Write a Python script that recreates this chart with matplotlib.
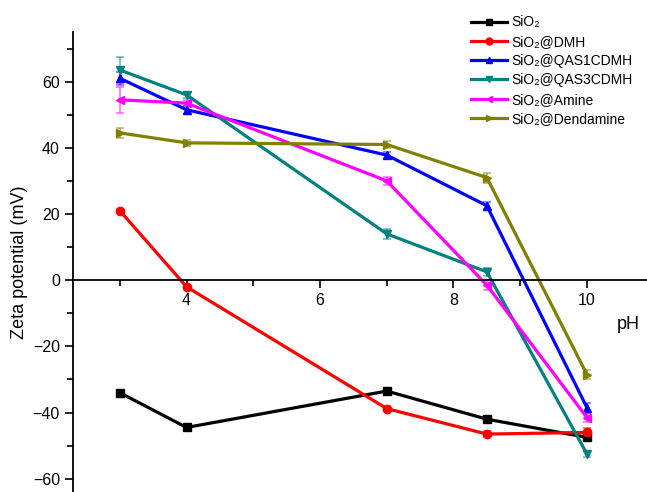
import matplotlib
matplotlib.use("Agg")
import matplotlib.pyplot as plt
from matplotlib.lines import Line2D
from matplotlib.ticker import MultipleLocator

plt.rcParams["font.family"] = ["Liberation Sans", "DejaVu Sans"]

# pH values
ph = [3, 4, 7, 8.5, 10]

# zeta potential (mV) per sample
sio2 = [-34, -44.5, -33.5, -42, -47.5]
dmh = [21, -2, -38.8, -46.5, -46]
qas1 = [61, 51.5, 37.8, 22.5, -38.5]
qas3 = [63.5, 56, 14, 2.5, -52.5]
amine = [54.5, 53.5, 30, -1.5, -41.5]
dendamine = [44.5, 41.5, 41, 31, -28.5]

# error bars
sio2_err = [0.5, 0.5, 0.5, 0.5, 0.8]
dmh_err = [0.6, 0.6, 0.8, 1.0, 1.2]
qas1_err = [2.0, 1.2, 1.0, 1.0, 1.5]
qas3_err = [4.0, 0.8, 1.5, 1.2, 1.0]
amine_err = [4.0, 1.0, 1.2, 1.5, 1.2]
dendamine_err = [1.5, 1.0, 1.0, 1.5, 1.5]

labels = ["SiO₂", "SiO₂@DMH", "SiO₂@QAS1CDMH", "SiO₂@QAS3CDMH",
          "SiO₂@Amine", "SiO₂@Dendamine"]
colors = ["#000000", "#ff0000", "#0000ff", "#008080", "#ff00ff", "#808000"]
markers = ["s", "o", "^", "v", "<", ">"]
series = [sio2, dmh, qas1, qas3, amine, dendamine]
errors = [sio2_err, dmh_err, qas1_err, qas3_err, amine_err, dendamine_err]

fig = plt.figure(figsize=(6.47, 4.92), dpi=100)
ax = fig.add_axes([0.113, 0.0, 0.887, 0.935])

handles = []
for y, e, lab, c, m in zip(series, errors, labels, colors, markers):
    eb = ax.errorbar(ph, y, yerr=e, color=c, marker=m, markersize=6,
                     linewidth=2.3, capsize=3, elinewidth=1.2,
                     ecolor=c, capthick=1.2)
    for art in eb[1]:
        art.set_alpha(0.55)
    for art in eb[2]:
        art.set_alpha(0.55)
    handles.append(Line2D([], [], color=c, marker=m, markersize=5,
                          linewidth=2.3, label=lab))

ax.set_xlim(2.3, 10.9)
ax.set_ylim(-64, 75)

ax.spines["top"].set_visible(False)
ax.spines["right"].set_visible(False)
ax.spines["bottom"].set_position(("data", 0))
ax.spines["left"].set_linewidth(1.3)
ax.spines["bottom"].set_linewidth(1.3)

ax.set_xticks([4, 6, 8, 10])
ax.xaxis.set_minor_locator(MultipleLocator(1))
ax.yaxis.set_major_locator(MultipleLocator(20))
ax.yaxis.set_minor_locator(MultipleLocator(10))
ax.tick_params(axis="both", which="major", direction="out", length=6,
               width=1.2, labelsize=11.5)
ax.tick_params(axis="both", which="minor", direction="out", length=4, width=1.2)

ax.set_ylabel("Zeta potential (mV)", fontsize=13, labelpad=3)
ax.text(10.45, -13.5, "pH", fontsize=13, ha="left", va="center")

ax.legend(handles=handles, loc="upper left", bbox_to_anchor=(0.672, 1.063),
          frameon=False, fontsize=10, handlelength=2.6, handletextpad=0.3,
          labelspacing=0.38)

plt.savefig("out.png", dpi=100)
